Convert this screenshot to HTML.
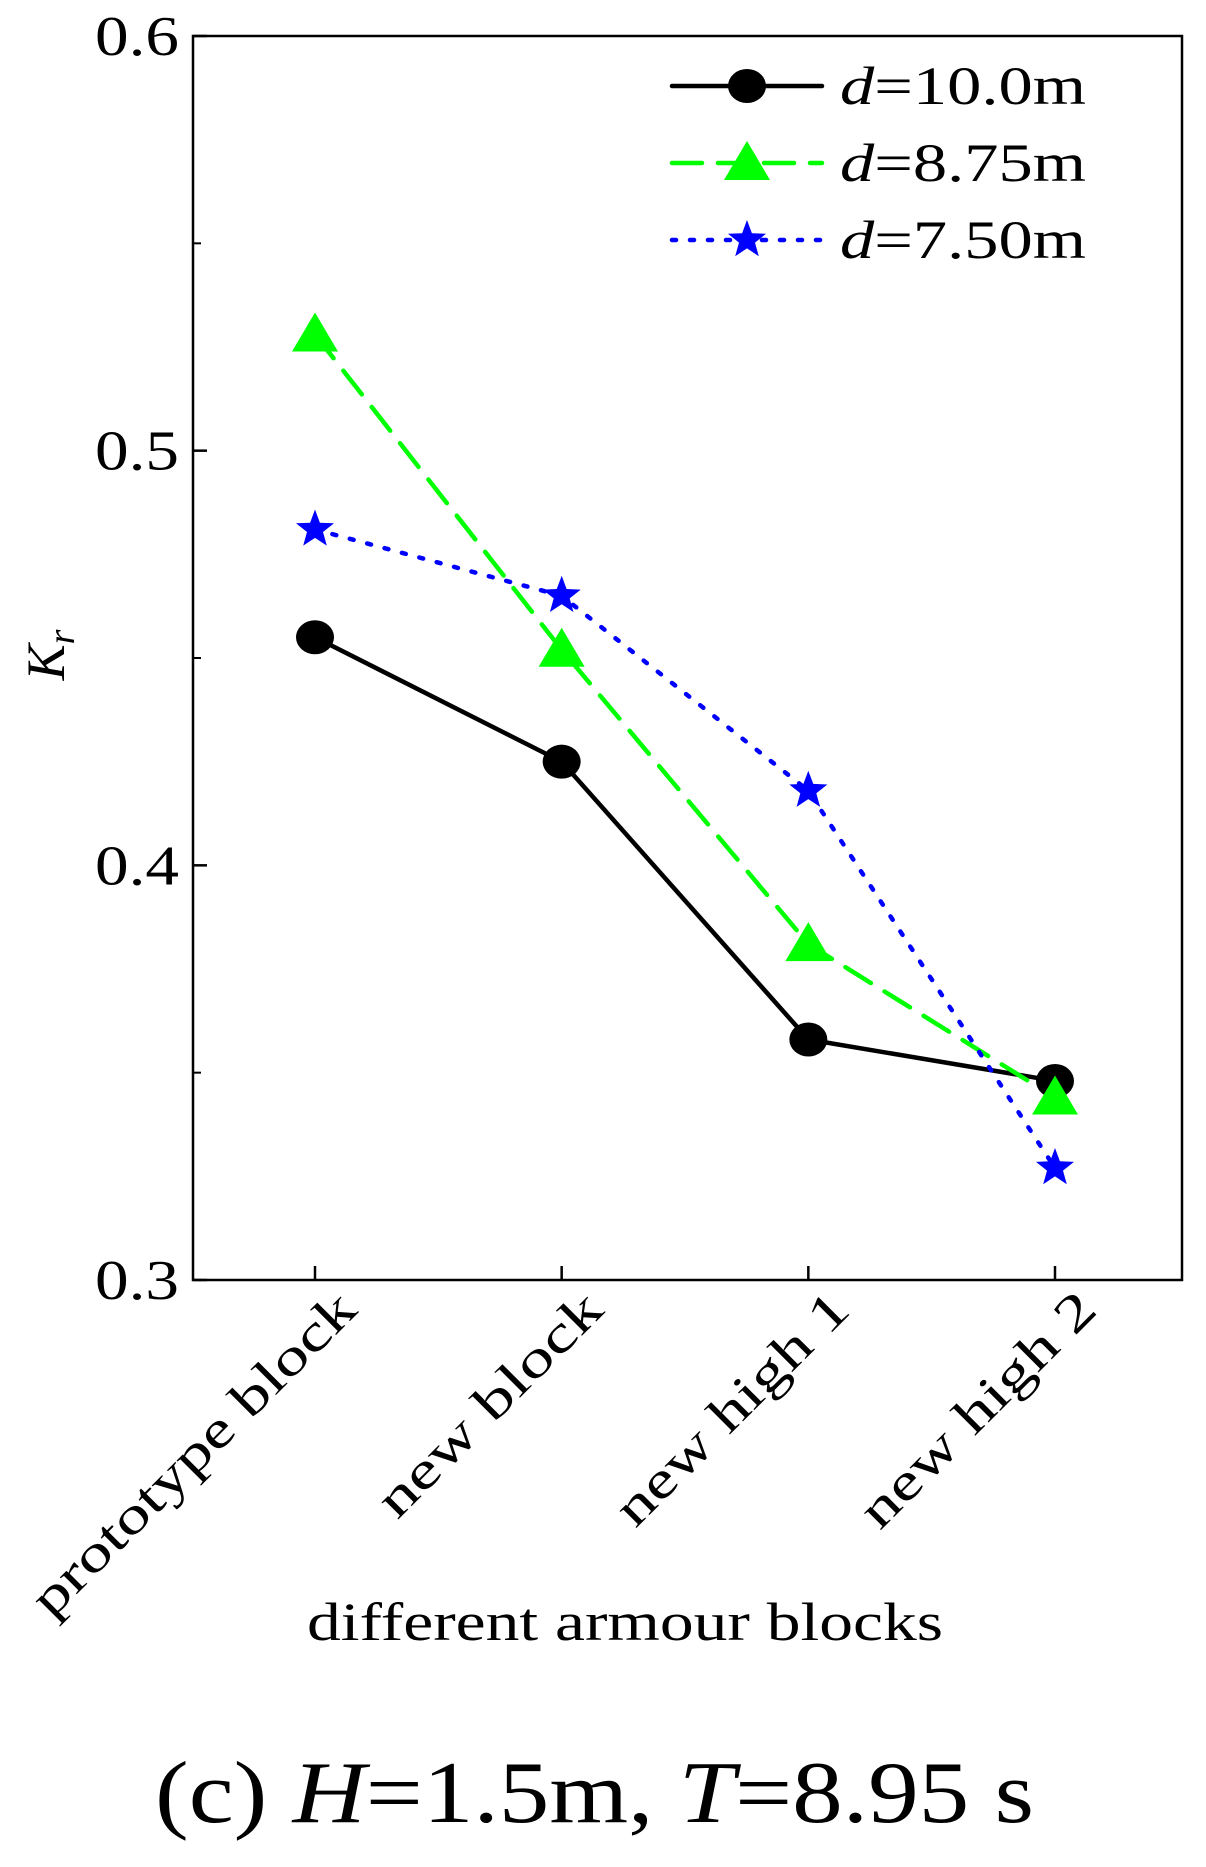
<!DOCTYPE html>
<html><head><meta charset="utf-8"><style>
html,body{margin:0;padding:0;background:#fff;}
svg text{font-family:"Liberation Serif",serif;fill:#000;}
</style></head><body>
<svg id="chart" width="1206" height="1862" viewBox="0 0 1206 1862" xmlns="http://www.w3.org/2000/svg">
<g id="plot"></g>
</svg>
<script>
const categories = ["prototype block","new block","new high 1","new high 2"];
const seriesD10 = [0.455, 0.425, 0.358, 0.348];
const seriesD875 = [0.528, 0.452, 0.381, 0.344];
const seriesD750 = [0.481, 0.465, 0.418, 0.327];
const yTicks = ["0.3","0.4","0.5","0.6"];
const legendLabels = ["=10.0m","=8.75m","=7.50m"];

const L=193,R=1182,T=36,B=1280,yMin=0.3,yMax=0.6;
const catX=[315,562,810,1055];
const catLabelLen=[435,295,307,310];
function xs(i){return catX[0]+i*(catX[3]-catX[0])/(categories.length-1);}
function ys(v){return B-(v-yMin)/(yMax-yMin)*(B-T);}
const NS="http://www.w3.org/2000/svg";
const g=document.getElementById('plot');
function mk(tag,attrs,parent){const e=document.createElementNS(NS,tag);for(const k in attrs)e.setAttribute(k,attrs[k]);(parent||g).appendChild(e);return e;}

let frame=mk('rect',{x:L,y:T,width:R-L,height:B-T,fill:'none',stroke:'#000','stroke-width':2.5});



yTicks.forEach((t,i)=>{
  const v=parseFloat(t),y=ys(v);
  let tk=mk('line',{x1:L,x2:L+14,y1:y,y2:y,stroke:'#000','stroke-width':2.5});
  
  
  if(i<yTicks.length-1){
    let m=mk('line',{x1:L,x2:L+8,y1:ys(v+0.05),y2:ys(v+0.05),stroke:'#000','stroke-width':2});
    
    
  }
  let tx=mk('text',{x:L-14-84,y:y+19,'font-size':56,textLength:84,lengthAdjust:'spacingAndGlyphs'});
  tx.textContent=t;
  
  
});

categories.forEach((c,i)=>{
  const x=xs(i);
  let tk=mk('line',{x1:x,x2:x,y1:B,y2:B-14,stroke:'#000','stroke-width':2.5});
  
  
  let tx=mk('text',{x:-catLabelLen[i],y:0,'font-size':52,textLength:catLabelLen[i],lengthAdjust:'spacingAndGlyphs',transform:`translate(${x+44},${B+32}) rotate(-45)`});
  tx.textContent=c;
  
  
});

function star(cx,cy,r){let p=[];for(let k=0;k<10;k++){const a=-Math.PI/2+k*Math.PI/5;const rr=k%2?r*0.42:r;p.push((cx+rr*Math.cos(a)).toFixed(1)+','+(cy+rr*Math.sin(a)).toFixed(1));}return p.join(' ');}
function marker(type,x,y,color,name){
  let e;
  if(type==='circle') e=mk('ellipse',{cx:x,cy:y,rx:19,ry:17,fill:color});
  else if(type==='tri') e=mk('polygon',{points:`${x},${y-22} ${x-23},${y+17} ${x+23},${y+17}`,fill:color});
  else e=mk('polygon',{points:star(x,y,20),fill:color});
  
  
}
const series=[
 {d:seriesD10,color:'#000',dash:'',w:4.5,m:'circle',n:'d10'},
 {d:seriesD875,color:'#00ff00',dash:'30,16',w:4.5,m:'tri',n:'d875'},
 {d:seriesD750,color:'#0000ff',dash:'4,14',w:4.5,m:'star',n:'d750'}
];
series.forEach(s=>{
  let ln=mk('polyline',{points:s.d.map((v,i)=>xs(i)+','+ys(v)).join(' '),fill:'none',stroke:s.color,'stroke-width':s.w,'stroke-dasharray':s.dash,'stroke-linecap':'round'});
  
  
});
series.forEach(s=>{s.d.forEach((v,i)=>marker(s.m,xs(i),ys(v),s.color,'point-'+s.n));});

series.forEach((s,i)=>{
  const y=86+i*77;
  let ln=mk('line',{x1:672,x2:822,y1:y,y2:y,stroke:s.color,'stroke-width':s.w,'stroke-dasharray':s.dash,'stroke-linecap':'round'});
  
  
  marker(s.m,747,y,s.color,'legend-marker');
  let tx=mk('text',{x:840,y:y+18,'font-size':54,textLength:246,lengthAdjust:'spacingAndGlyphs'});
  const it=mk('tspan',{'font-style':'italic'},tx);it.textContent='d';
  const rt=mk('tspan',{},tx);rt.textContent=legendLabels[i];
  
  
});

let yl=mk('text',{x:0,y:0,'text-anchor':'middle','font-size':54,transform:'translate(64,655) rotate(-90)'});
const k=mk('tspan',{'font-style':'italic'},yl);k.textContent='K';
const r=mk('tspan',{'font-style':'italic','font-size':38,dy:10},yl);r.textContent='r';



let xl=mk('text',{x:307,y:1640,'font-size':54,textLength:636,lengthAdjust:'spacingAndGlyphs'});
xl.textContent='different armour blocks';



let cap=mk('text',{x:155,y:1822,'font-size':88,textLength:879,lengthAdjust:'spacingAndGlyphs'});
[['(c) ',0],['H',1],['=1.5m, ',0],['T',1],['=8.95 s',0]].forEach(([t,it])=>{const s=mk('tspan',it?{'font-style':'italic'}:{},cap);s.textContent=t;});


</script>
</body></html>
